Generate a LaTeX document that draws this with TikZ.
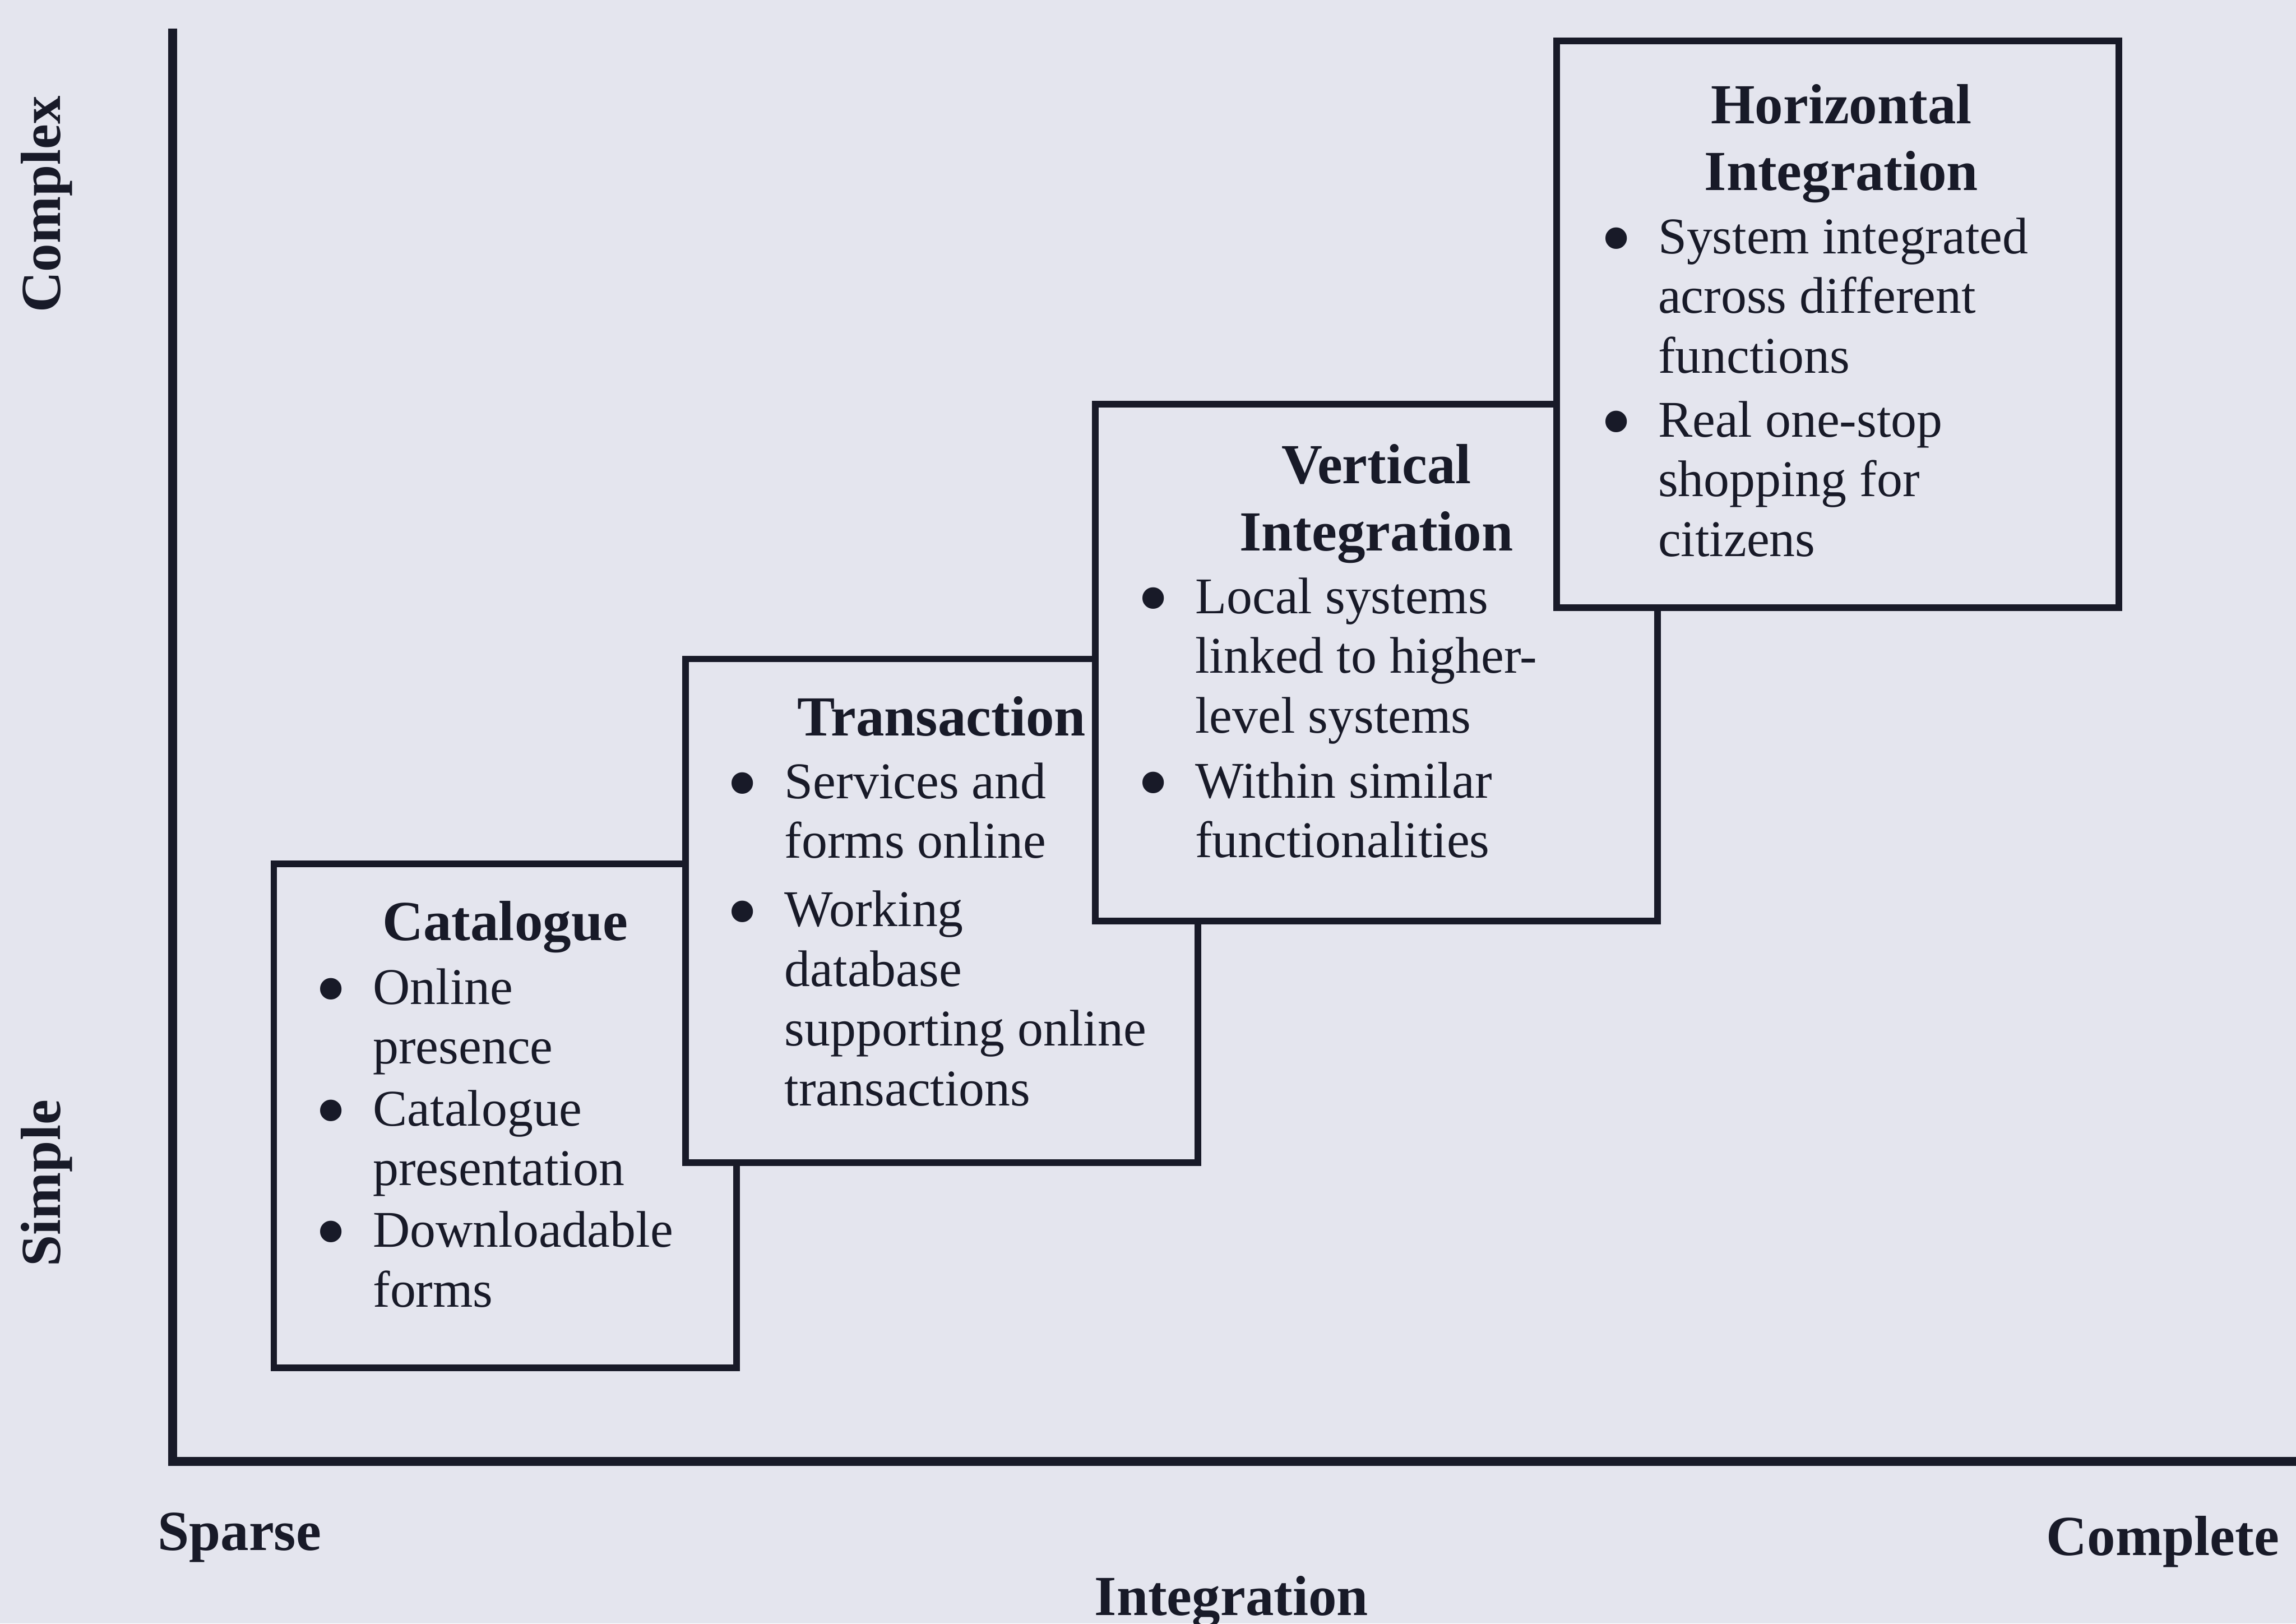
\documentclass[tikz,border=0pt]{standalone}
\usepackage{fontspec}
\setmainfont{Liberation Serif}
\usepackage{graphicx}
\definecolor{paper}{RGB}{228,229,238}
\definecolor{ink}{RGB}{24,26,40}
% bullet column and hanging indent of the stage lists
\newcommand{\itemdot}{\makebox[11.2pt][l]{\raisebox{-2.85pt}{\scalebox{1.75}{\textbullet}}}}
\newcommand{\itemrest}{\hspace*{11.2pt}}
\tikzset{
  stagebox/.style={draw=ink, fill=paper, line width=1.3pt},
  axisline/.style={draw=ink, line width=1.75pt},
  heading/.style={font=\fontsize{11pt}{13.03pt}\selectfont\bfseries, text=ink,
    align=center, inner sep=0pt, anchor=north},
  bodytext/.style={font=\fontsize{10pt}{11.6pt}\selectfont, text=ink,
    align=left, inner sep=0pt, anchor=north west},
  axislabel/.style={font=\fontsize{11pt}{13pt}\selectfont\bfseries, text=ink,
    inner sep=0pt},
}
\begin{document}
\begin{tikzpicture}[x=0.1mm, y=-0.1mm]
\fill[paper] (0,0) rectangle (1568,1108.77);
\useasboundingbox (0,0) rectangle (1568,1108.77);

% axes
\coordinate (ytop) at (118,19.5);
\coordinate (origin) at (118,998);
\coordinate (xend) at (1572,998);
\draw[axisline] (ytop) -- (origin) -- (xend);

% axis labels
\node[axislabel, rotate=90, anchor=base] (complex) at (41,139.5) {Complex};
\node[axislabel, rotate=90, anchor=base] (simple) at (41,808) {Simple};
\node[axislabel, anchor=base west] (sparse) at (107,1058.6) {Sparse};
\node[axislabel, anchor=base] (complete) at (1477,1062) {Complete};
\node[axislabel, anchor=base] (integration) at (841,1103) {Integration};

% stage 1: catalogue
\draw[stagebox] (187,590) rectangle (503,934);
\node[heading] (catT) at (345,609.4) {\strut Catalogue};
\node[bodytext] (catB) at (214.7,656.5) {%
  \strut\itemdot Online\\
  \itemrest presence\\[0.4pt]
  \itemdot Catalogue\\
  \itemrest presentation\\[0.4pt]
  \itemdot Downloadable\\
  \itemrest forms};

% stage 2: transaction
\draw[stagebox] (468,450) rectangle (818,794);
\node[heading] (traT) at (643,469.6) {\strut Transaction};
\node[bodytext] (traB) at (495.8,516) {%
  \strut\itemdot Services and\\
  \itemrest forms online\\[1.7pt]
  \itemdot Working\\
  \itemrest database\\
  \itemrest supporting online\\
  \itemrest transactions};

% stage 3: vertical integration
\draw[stagebox] (748,276) rectangle (1132,629);
\node[heading] (verT) at (940,297.5) {\strut Vertical\\Integration};
\node[bodytext] (verB) at (776.2,389.7) {%
  \strut\itemdot Local systems\\
  \itemrest linked to higher-\\
  \itemrest level systems\\[1pt]
  \itemdot Within similar\\
  \itemrest functionalities};

% stage 4: horizontal integration
\draw[stagebox] (1063,28) rectangle (1447,415);
\node[heading] (horT) at (1257.5,51.6) {\strut Horizontal\\Integration};
\node[bodytext] (horB) at (1092.3,143.8) {%
  \strut\itemdot System integrated\\
  \itemrest across different\\
  \itemrest functions\\[0.85pt]
  \itemdot Real one-stop\\
  \itemrest shopping for\\
  \itemrest citizens};
\end{tikzpicture}
\end{document}
